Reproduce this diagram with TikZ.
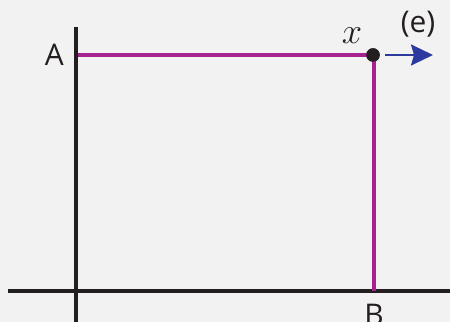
\documentclass[tikz,border=0pt]{standalone}
\usepackage{fontspec}
\setmainfont{Open Sans}
\usetikzlibrary{arrows.meta,positioning}
\definecolor{fond}{HTML}{F2F2F2}
\definecolor{noir}{HTML}{231F20}
\definecolor{magenta}{HTML}{A6238F}
\definecolor{bleu}{HTML}{2B3A9C}
\begin{document}
\begin{tikzpicture}[
  axe/.style={line width=2.3pt,noir},
  trait/.style={line width=2.3pt,magenta},
  f/.style={-{Stealth[length=4.4mm,width=4.2mm,inset=0.6mm]},line width=1.3pt,bleu},
  point/.style={circle,fill=noir,inner sep=0pt,minimum size=0.27cm},
  lab/.style={font=\fontsize{17}{19}\selectfont,text=noir,inner sep=1pt}]
  % ---- fond
  \fill[fond] (0,0) rectangle (9,6.44);
  \useasboundingbox (0,0) rectangle (9,6.44);
  % ---- axes
  \coordinate (xg) at (0.16,0.62);
  \coordinate (xd) at (9.1,0.62);
  \coordinate (yb) at (1.52,-0.1);
  \coordinate (yh) at (1.52,5.9);
  \draw[axe] (xg) -- (xd);
  \draw[axe] (yb) -- (yh);
  % ---- trajet
  \coordinate (a) at (1.52,5.34);
  \coordinate (b) at (7.48,0.62);
  \node[point] (x) at (7.46,5.34) {};
  \draw[trait] ([xshift=1.15pt]a) -- (x.center -| b) -- (b);
  \node[point] at (x) {};
  \coordinate (e) at (8.66,5.34);
  \draw[f] (x.east) ++(0.1,0) coordinate (xe) (xe) -- (e);
  % ---- etiquettes
  \node[lab,left=0.2cm of a] (la) {A};
  \node[lab,below=0.22cm of b] (lb) {B};
  \node[lab,font=\fontsize{20}{22}\selectfont] (lx) at (7.04,5.72) {$x$};
  \node[lab] (le) at (8.36,5.96) {(e)};
\end{tikzpicture}
\end{document}
